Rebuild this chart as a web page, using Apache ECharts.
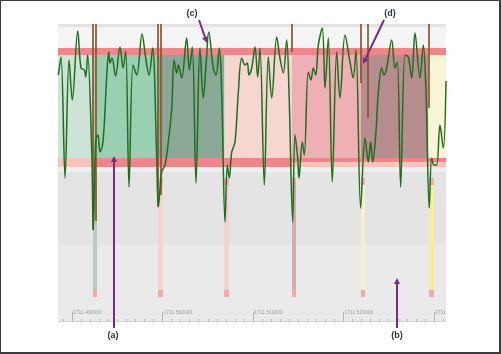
<!DOCTYPE html>
<html>
<head>
<meta charset="utf-8">
<script src="https://cdn.jsdelivr.net/npm/echarts@6/dist/echarts.min.js"></script>
<style>
  html, body { margin: 0; padding: 0; background: #fff; }
  #wrap { position: relative; width: 501px; height: 354px; }
  #chart { width: 501px; height: 354px; }
  #frame { position: absolute; left: 0; top: 0; width: 501px; height: 354px; box-sizing: border-box;
           border: 1px solid #3c3c3c; border-right-width: 2px; border-bottom-width: 2px; pointer-events: none; }
</style>
</head>
<body>
<div id="wrap"><div id="chart"></div><div id="frame"></div></div>
<script>
// x values are offsets from 1711.48, in units of 1e-4
const xMin = 84.5, xMax = 513.3
const tickValues = [100, 200, 300, 400, 500]

// green signal
const sigT = [84.9, 87.8, 92.3, 96.7, 100.3, 106.3, 109.9, 113.6, 115.1, 117.3,
  121.8, 123.5, 126.2, 128.7, 130.9, 133.7, 135.9, 138.1, 140.6, 142.0,
  144.2, 148.1, 153.0, 156.4, 159.3, 163.0, 167.4, 171.5, 177.4, 181.4,
  185.1, 189.0, 193.6, 195.4, 199.1, 202.8, 206.4, 210.2, 212.7, 215.7,
  217.5, 221.2, 226.7, 229.6, 232.9, 237.0, 241.4, 245.1, 248.1, 251.1,
  256.1, 259.1, 262.8, 265.4, 269.1, 271.6, 273.8, 276.5, 280.1, 283.8,
  287.5, 291.2, 293.7, 295.6, 298.6, 302.2, 305.2, 307.7, 312.5, 316.9,
  320.7, 326.2, 329.8, 333.5, 337.2, 339.8, 343.9, 346.4, 349.4, 350.8,
  354.5, 356.7, 361.1, 364.1, 366.6, 369.3, 372.2, 376.6, 379.6, 383.2,
  387.6, 392.5, 396.1, 401.7, 407.2, 410.8, 413.8, 419.0, 423.8, 427.4,
  430.1, 432.3, 435.9, 438.5, 442.2, 444.8, 447.7, 453.3, 456.9, 459.5,
  463.2, 468.0, 471.6, 475.4, 479.0, 484.5, 488.2, 491.2, 494.8, 497.5,
  500.0, 503.0, 506.6, 510.3, 513.3]
const sigY = [246, 264, 143, 261, 221, 290, 253, 251, 244, 266,
  169, 91, 181, 186, 169, 176, 201, 241, 269, 258,
  263, 245, 274, 253, 270, 134, 256, 246, 287, 263,
  246, 273, 163, 114, 149, 156, 179, 213, 261, 248,
  256, 243, 283, 251, 274, 138, 273, 223, 256, 289,
  253, 246, 273, 229, 99, 156, 143, 169, 179, 229,
  263, 256, 258, 246, 253, 274, 244, 273, 136, 264,
  223, 284, 263, 248, 281, 229, 99, 186, 163, 143,
  179, 166, 249, 241, 253, 246, 276, 293, 233, 283,
  139, 269, 223, 286, 259, 243, 271, 113, 183, 159,
  179, 159, 189, 229, 253, 246, 253, 281, 253, 259,
  134, 266, 264, 243, 288, 243, 276, 229, 113, 163,
  156, 156, 196, 173, 240]

// coloured segments of the upper zone
const regionEdges = [84.5, 122.7, 193.9, 268.5, 343.1, 419.3, 493.9, 513.3]
// narrow transition strips in the lower zone
const gapStart = [123.2, 195.0, 268.0, 343.1, 419.3, 494.5]
const gapEnd = [127.6, 200.6, 273.5, 347.5, 423.8, 500.0]
// brown spikes from the top
const spikeT = [122.9, 126.5, 194.3, 198.0, 342.8, 419.0, 426.3, 494.5]
const spikeLow = [91, 100, 114, 126, 269, 238, 203, 213]
const spikeTop = 297

const regionColors = ['#cce3d5', '#9acfb1', '#8ba795', '#f6d6d0', '#eeb0b5', '#b68c8f', '#f8f5d6']
const gapColors = ['#b9cdbf', '#f4d3d1', '#f4d1d0', '#d2abae', '#f5f1d0', '#f4eda3']
const red = '#f0868c', salmon = '#f6c4ba', cap = '#f2a9ad'

const minorValues = []
for (let v = 90; v <= 510; v += 10) if (v % 100) minorValues.push(v)

const bg = []
function area(x1, x2, y1, y2, color) {
  bg.push([{ xAxis: x1, yAxis: y1, itemStyle: { color: color, opacity: 1 } }, { xAxis: x2, yAxis: y2 }])
}
area(xMin, xMax, 0, 76, '#eaeaea')
area(xMin, xMax, 76, 149, '#e4e4e4')
area(xMin, xMax, 149, 154, '#efefef')
area(xMin, 122.7, 154, 163, salmon)
area(122.7, 343.1, 154, 163, red)
area(343.1, xMax, 154, 159, salmon)
area(343.1, xMax, 159, 163, red)
for (let i = 0; i < regionColors.length; i++) area(regionEdges[i], regionEdges[i + 1], 163, 266, regionColors[i])
area(xMin, xMax, 266, 273, red)
area(xMin, xMax, 273, 294, '#f4f4f4')
area(xMin, xMax, 294, 297, '#e2e2e2')

const gaps = []
gapStart.forEach((s, i) => {
  gaps.push([{ xAxis: s, yAxis: 24, itemStyle: { color: gapColors[i], opacity: 1 } }, { xAxis: gapEnd[i], yAxis: 143 }])
  gaps.push([{ xAxis: s, yAxis: 24, itemStyle: { color: cap, opacity: 1 } }, { xAxis: gapEnd[i], yAxis: 31 }])
  gaps.push([{ xAxis: s, yAxis: 136, itemStyle: { color: cap, opacity: 1 } }, { xAxis: gapEnd[i], yAxis: 143 }])
})

const spikes = spikeT.map((t, i) => [{ coord: [t, spikeTop] }, { coord: [t, spikeLow[i]] }])

const purple = '#7b2a7d'
function arrow(x1, y1, x2, y2) {
  const a = Math.atan2(y2 - y1, x2 - x1), L = 6, W = 3
  const bx = x2 - L * Math.cos(a), by = y2 - L * Math.sin(a)
  return [
    { type: 'line', z: 100, shape: { x1: x1, y1: y1, x2: bx, y2: by }, style: { stroke: purple, lineWidth: 2 } },
    { type: 'polygon', z: 100, shape: { points: [[x2, y2], [bx + W * Math.sin(a), by - W * Math.cos(a)], [bx - W * Math.sin(a), by + W * Math.cos(a)]] },
      style: { fill: purple } }
  ]
}
function tag(x, y, s) {
  return { type: 'text', z: 100, x: x, y: y,
    style: { text: s, font: 'bold 9px "Liberation Sans", Arial, sans-serif', fill: '#2d3440', align: 'center', verticalAlign: 'middle' } }
}

const chart = echarts.init(document.getElementById('chart'))
chart.setOption({
  animation: false,
  grid: { left: 58, right: 55, top: 24, bottom: 33, containLabel: false },
  xAxis: [
    {
      type: 'value', min: xMin, max: xMax, position: 'bottom', z: 20,
      axisLine: { show: true, lineStyle: { color: '#d4d4d4' } },
      axisTick: { show: true, inside: true, length: 9, customValues: tickValues, lineStyle: { color: '#b4b4b4' } },
      axisLabel: {
        inside: true, customValues: tickValues, fontSize: 5, color: '#9a9a9a', align: 'left', margin: 6,
        padding: [0, 0, 0, 1], formatter: v => (1711.48 + v / 1e4).toFixed(6)
      },
      splitLine: { show: false }
    },
    {
      type: 'value', min: xMin, max: xMax, position: 'bottom', z: 20,
      axisLine: { show: false },
      axisTick: { show: true, inside: true, length: 2, customValues: minorValues, lineStyle: { color: '#b4b4b4' } },
      axisLabel: { show: false },
      splitLine: { show: false }
    }
  ],
  yAxis: { type: 'value', min: 0, max: 297, show: false },
  series: [
    { type: 'line', data: [], silent: true, z: 1, markArea: { silent: true, data: bg } },
    { type: 'line', data: [], silent: true, z: 2, markArea: { silent: true, data: gaps } },
    {
      type: 'line', z: 5, smooth: 0.35, showSymbol: false, silent: true,
      data: sigT.map((t, i) => [t, sigY[i]]),
      lineStyle: { color: '#1f6e1f', width: 1.5 }
    },
    {
      type: 'line', data: [], z: 6, silent: true,
      markLine: { silent: true, symbol: ['none', 'none'], label: { show: false },
        lineStyle: { color: '#8a5533', width: 2, type: 'solid', opacity: 0.85 }, data: spikes }
    }
  ],
  graphic: [
    // the last tick label is cut at the plot's right edge
    { type: 'rect', z: 90, shape: { x: 446, y: 300, width: 52, height: 24 }, style: { fill: '#fff' } },
    ...arrow(114, 328, 114, 156), tag(113, 336, '(a)'),
    ...arrow(397, 328, 397, 278), tag(397, 336, '(b)'),
    ...arrow(199, 20, 207, 43), tag(192, 14, '(c)'),
    ...arrow(384, 20, 363, 64), tag(390, 14, '(d)')
  ]
})
</script>
</body>
</html>
